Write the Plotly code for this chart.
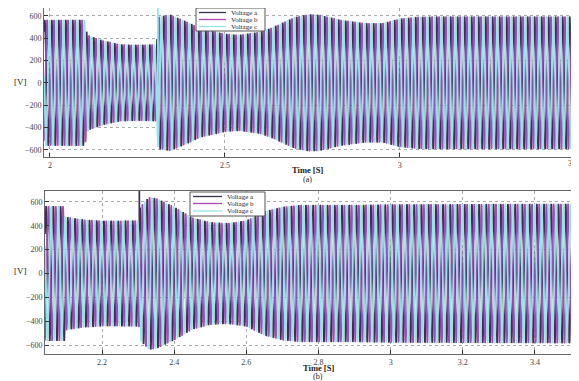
import numpy as np
import plotly.graph_objects as go

# ---------------- data ----------------
FREQ_HZ = 50.0
SERIES = ["Voltage a", "Voltage b", "Voltage c"]
PHASES_DEG = [0.0, -120.0, 120.0]
COLORS = ["#34344e", "#ac48b4", "#92e6ea"]

# (a) peak-voltage envelope readings
env_a_time = [1.983, 2.05, 2.100, 2.106, 2.15, 2.20, 2.25, 2.305, 2.309, 2.33, 2.345,
              2.39, 2.43, 2.50, 2.54, 2.60, 2.63, 2.70, 2.74, 2.77, 2.83, 2.90,
              2.95, 3.00, 3.05, 3.10, 3.501]
env_a_amp = [565, 565, 565, 430, 380, 345, 340, 345, 590, 605, 610,
             550, 490, 440, 430, 457, 490, 590, 615, 610, 565, 535,
             535, 575, 592, 595, 595]
spike_a = ("Voltage c", 2.3085, 700)

# (b) peak-voltage envelope readings
env_b_time = [2.042, 2.09, 2.096, 2.098, 2.15, 2.20, 2.25, 2.302, 2.305, 2.33, 2.35,
              2.40, 2.45, 2.50, 2.55, 2.60, 2.65, 2.70, 2.75, 2.80, 2.90, 3.00, 3.511]
env_b_amp = [565, 565, 565, 475, 452, 443, 443, 445, 560, 640, 632,
             560, 470, 430, 422, 445, 520, 560, 575, 575, 575, 580, 585]
spike_b = ("Voltage a", 2.3035, 760)

y_ticks = [-600, -400, -200, 0, 200, 400, 600]
x_ticks_a = [2, 2.5, 3, 3.5]
x_ticks_b = [2.2, 2.4, 2.6, 2.8, 3, 3.2, 3.4]

# ---------------- layout helpers (page body has an 8px margin) ----------------
W, H, OFF = 579, 381, 8
FW, FH = W - OFF, H - OFF


def px(x):
    return (x - OFF) / FW


def py(y):
    return 1 - (y - OFF) / FH


DT = 2e-4
fig = go.Figure()


def add_panel(env_t, env_v, spike, xa, ya):
    t = np.arange(env_t[0], env_t[-1] + DT / 2, DT)
    amp = np.interp(t, env_t, env_v)
    for name, ph, col in zip(SERIES, PHASES_DEG, COLORS):
        v = amp * np.sin(2 * np.pi * FREQ_HZ * t + np.deg2rad(ph))
        tt, vv = t, v
        if spike[0] == name:
            k = np.searchsorted(t, spike[1])
            tt = np.insert(t, k, spike[1])
            vv = np.insert(v, k, spike[2])
        fig.add_trace(go.Scatter(
            x=tt, y=vv, mode="lines", name=name, showlegend=False,
            line=dict(color=col, width=1.7),
            xaxis=xa, yaxis=ya, hoverinfo="skip"))


add_panel(env_a_time, env_a_amp, spike_a, "x", "y")
add_panel(env_b_time, env_b_amp, spike_b, "x2", "y2")

FONT = "Liberation Serif"
TICK_FONT = dict(family=FONT, size=8, color="#444")
axis_common = dict(showline=True, linecolor="#666", linewidth=1, mirror=True,
                   ticks="inside", ticklen=4, tickcolor="#333",
                   showgrid=True, gridcolor="#aaa", griddash="dot", gridwidth=1,
                   zeroline=False, tickfont=TICK_FONT)

fig.update_layout(
    width=FW, height=FH,
    margin=dict(l=0, r=0, t=0, b=0),
    paper_bgcolor="white", plot_bgcolor="white",
    showlegend=False,
    xaxis=dict(domain=[px(44), px(575)], range=[1.983, 3.5005], tickvals=x_ticks_a,
               ticktext=[str(v) for v in x_ticks_a[:-1]] + [""], anchor="y", **axis_common),
    yaxis=dict(domain=[py(157), 1.0], range=[-665, 671], tickvals=y_ticks,
               anchor="x", **axis_common),
    xaxis2=dict(domain=[px(45), px(575)], range=[2.042, 3.511], tickvals=x_ticks_b,
                ticktext=[str(v) for v in x_ticks_b], anchor="y2", **axis_common),
    yaxis2=dict(domain=[py(354), py(191)], range=[-675, 692], tickvals=y_ticks,
                anchor="x2", **axis_common),
)

# last top tick label sits on the page edge (as in the original)
fig.add_annotation(text=str(x_ticks_a[-1]), x=1.0, xref="paper", y=py(163), yref="paper",
                   showarrow=False, xanchor="right", yanchor="middle", font=TICK_FONT,
                   borderpad=0)

# hand-drawn legends (compact, like the original)
legend_specs = [
    dict(box=(196, 8, 265, 31), line=(199, 226), text_x=230, rows=[12.5, 19.5, 26.5]),
    dict(box=(190, 192, 265, 216), line=(193, 222), text_x=226, rows=[196.5, 203.5, 211]),
]
for spec in legend_specs:
    x0, y0, x1, y1 = spec["box"]
    fig.add_shape(type="rect", xref="paper", yref="paper",
                  x0=px(x0), x1=px(x1), y0=py(y1), y1=py(y0),
                  line=dict(color="#555", width=1), fillcolor="white", layer="above")
    for name, col, ry in zip(SERIES, COLORS, spec["rows"]):
        fig.add_shape(type="line", xref="paper", yref="paper",
                      x0=px(spec["line"][0]), x1=px(spec["line"][1]), y0=py(ry), y1=py(ry),
                      line=dict(color=col, width=1.3), layer="above")
        fig.add_annotation(text=name, x=px(spec["text_x"]), y=py(ry), xref="paper",
                           yref="paper", showarrow=False, xanchor="left", yanchor="middle",
                           font=dict(family=FONT, size=7, color="#222"), borderpad=0)

for txt, x, y, s in [("<b>Time [S]</b>", 307, 170, 8.5), ("(a)", 307, 179, 8),
                     ("<b>Time [S]</b>", 318, 368, 8.5), ("(b)", 318, 376.5, 8)]:
    fig.add_annotation(text=txt, x=px(x), y=py(y), xref="paper", yref="paper",
                       showarrow=False, font=dict(family=FONT, size=s, color="#222"),
                       xanchor="center", yanchor="middle", borderpad=0)
for y in [82, 271]:
    fig.add_annotation(text="[V]", x=px(20), y=py(y), xref="paper", yref="paper",
                       showarrow=False, font=dict(family=FONT, size=9, color="#222"),
                       xanchor="center", yanchor="middle")

fig.write_html("out.html")
